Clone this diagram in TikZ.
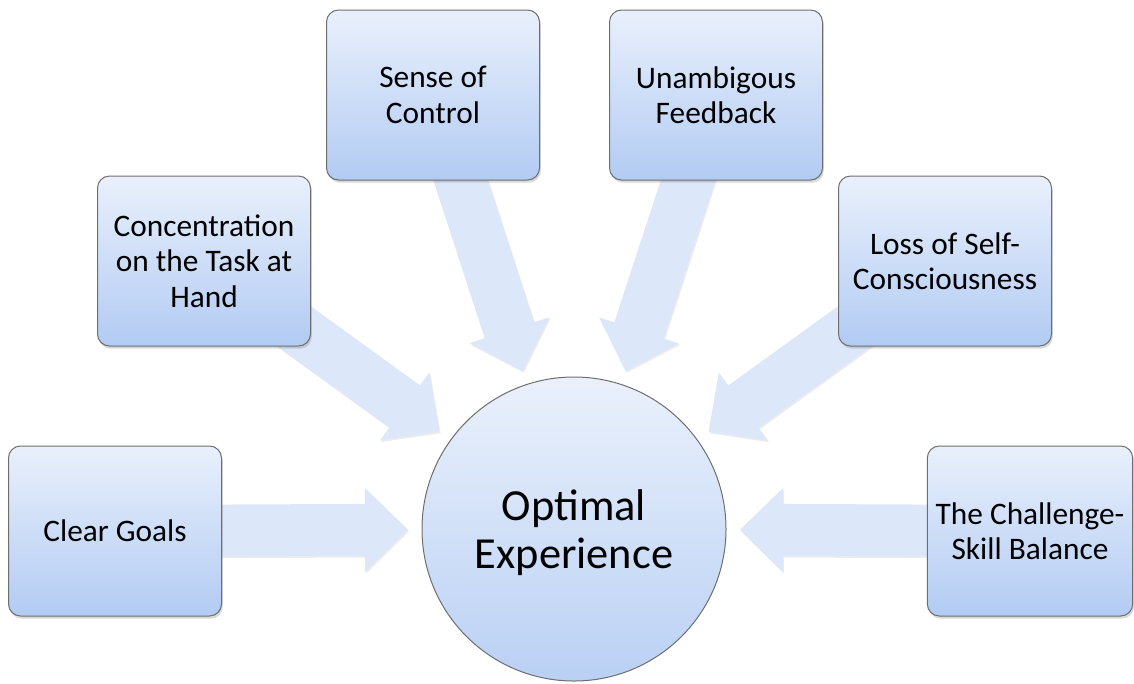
\documentclass[tikz,border=0pt]{standalone}
\usepackage{fontspec}
\setmainfont{Carlito}
\usetikzlibrary{calc,shadows,backgrounds}
\definecolor{boxtop}{RGB}{233,240,252}
\definecolor{boxbot}{RGB}{178,203,243}
\definecolor{flowfill}{RGB}{220,231,250}
\definecolor{rim}{RGB}{110,110,110}

\begin{document}
\begin{tikzpicture}[x=0.75pt,y=-0.75pt,
    box/.style={rectangle,rounded corners=9pt,draw=rim,line width=0.75pt,
      top color=boxtop,bottom color=boxbot,minimum width=159.75pt,
      minimum height=127.5pt,inner sep=0pt,align=center,
      font=\fontsize{23.5}{26.5}\selectfont,
      drop shadow={shadow xshift=1pt,shadow yshift=-2pt,opacity=0.3}},
    hub/.style={circle,draw=rim,line width=0.75pt,top color=boxtop!95!white,
      bottom color=boxbot!90!white,minimum size=228pt,inner sep=0pt,
      align=center,text depth=0pt,font=\fontsize{33.3}{36}\selectfont},
    flow/.style={fill=flowfill,draw=none,
      drop shadow={shadow xshift=0.8pt,shadow yshift=-1.2pt,opacity=0.15}}]
  \useasboundingbox (0,0) rectangle (1134,683);
  \node[hub] (OE) at (574,529) {Optimal\\Experience};
  \node[box] (CG) at (115,531) {Clear Goals};
  \node[box] (CT) at (204,261) {Concentration\\on the Task at\\Hand};
  \node[box] (SC) at (433,95) {Sense of\\Control};
  \node[box] (UF) at (716,95) {Unambigous\\Feedback};
  \node[box] (LS) at (945,261) {Loss of Self-\\Consciousness};
  \node[box,minimum width=154pt] (CS) at (1030,531) {The Challenge-\\Skill Balance};
  % block arrows pointing at the hub
  \begin{scope}[on background layer]
    \foreach \B in {CG,CT,SC,UF,LS,CS}
      {\coordinate (tip) at ($(OE.center)!124.5pt!(\B.center)$);
       \coordinate (neck) at ($(tip)!32.25pt!(\B.center)$);
       \fill[flow] ($(\B.center)!19.5pt!90:(tip)$) -- ($(neck)!19.5pt!90:(tip)$)
         -- ($(neck)!31.5pt!90:(tip)$) -- (tip) -- ($(neck)!31.5pt!-90:(tip)$)
         -- ($(neck)!19.5pt!-90:(tip)$) -- ($(\B.center)!19.5pt!-90:(tip)$)
         -- cycle;}
  \end{scope}
\end{tikzpicture}
\end{document}
